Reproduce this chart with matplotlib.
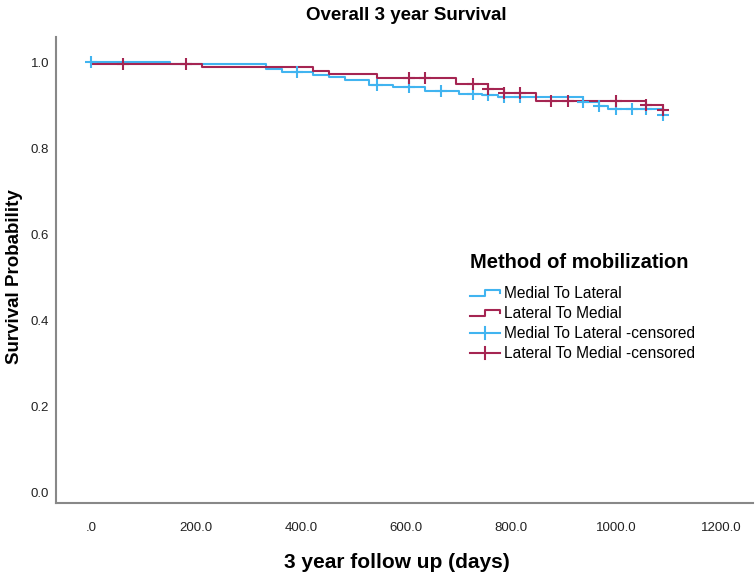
import numpy as np
import matplotlib
matplotlib.use('Agg')
import matplotlib.pyplot as plt
from matplotlib.lines import Line2D
from matplotlib.legend_handler import HandlerBase

# Medial To Lateral: event times (days) and survival after each step
ml_tempo = [0, 150, 333, 363, 423, 453, 484, 530, 575, 636, 700, 745, 775, 937, 968, 985, 1090]
ml_sobrev = [1.0, 0.996, 0.985, 0.977, 0.970, 0.965, 0.958, 0.947, 0.943, 0.933, 0.927, 0.923, 0.920,
             0.907, 0.899, 0.891, 0.878]
ml_censura = [0, 392, 544, 606, 666, 728, 756, 787, 817, 937, 968, 1000, 1030, 1058, 1090]

# Lateral To Medial
lm_tempo = [0, 2, 211, 423, 453, 544, 696, 756, 787, 848, 1058, 1090]
lm_sobrev = [1.0, 0.9965, 0.989, 0.980, 0.973, 0.963, 0.950, 0.937, 0.929, 0.911, 0.901, 0.889]
lm_censura = [60, 181, 606, 636, 728, 756, 787, 817, 877, 909, 1000, 1058, 1090]

x_ticks = [0, 200, 400, 600, 800, 1000, 1200]
x_rotulos = ['.0', '200.0', '400.0', '600.0', '800.0', '1000.0', '1200.0']
y_ticks = [0.0, 0.2, 0.4, 0.6, 0.8, 1.0]
y_rotulos = ['0.0', '0.2', '0.4', '0.6', '0.8', '1.0']

AZUL = '#41b4f0'
VINHO = '#a52552'
FONTE = ['Liberation Sans', 'DejaVu Sans']


def valor_em(tempos, sobrev, t):
    i = np.searchsorted(tempos, t, side='right') - 1
    return sobrev[i]


class DegrauHandler(HandlerBase):
    # icone de degrau da legenda (estilo SPSS)
    def create_artists(self, legend, orig, xd, yd, w, h, fontsize, trans):
        baixo = yd + h * 0.15
        alto = yd + h * 0.75
        xs = [xd, xd + w * 0.5, xd + w * 0.5, xd + w, xd + w]
        ys = [baixo, baixo, alto, alto, yd + h * 0.45]
        ln = Line2D(xs, ys, color=orig.get_color(), lw=1.5, transform=trans)
        return [ln]


class CensuraHandler(HandlerBase):
    def create_artists(self, legend, orig, xd, yd, w, h, fontsize, trans):
        meio = yd + h * 0.45
        l1 = Line2D([xd, xd + w], [meio, meio], color=orig.get_color(), lw=1.5, transform=trans)
        l2 = Line2D([xd + w / 2, xd + w / 2], [meio - h * 0.55, meio + h * 0.55],
                    color=orig.get_color(), lw=1.5, transform=trans)
        return [l1, l2]


def GerarGrafico():
    plt.rcParams['font.family'] = FONTE
    fig = plt.figure(figsize=(7.56, 5.73), dpi=100)
    ax = fig.add_axes([56 / 756, 1 - 503 / 573, 697 / 756, 466 / 573])

    linha_ml, = ax.step(ml_tempo, ml_sobrev, where='post', color=AZUL, lw=1.5)
    linha_lm, = ax.step(lm_tempo, lm_sobrev, where='post', color=VINHO, lw=1.5)

    y_ml = [valor_em(ml_tempo, ml_sobrev, t) for t in ml_censura]
    y_lm = [valor_em(lm_tempo, lm_sobrev, t) for t in lm_censura]
    ax.plot(ml_censura, y_ml, ls='none', marker='+', ms=8, mew=1.5, color=AZUL)
    ax.plot(lm_censura, y_lm, ls='none', marker='+', ms=8, mew=1.5, color=VINHO)

    ax.set_xlim(-67, 1261)
    ax.set_ylim(-0.0256, 1.059)
    ax.set_xticks(x_ticks)
    ax.set_xticklabels(x_rotulos)
    ax.set_yticks(y_ticks)
    ax.set_yticklabels(y_rotulos)
    ax.tick_params(length=0, labelsize=9.5, colors='#222222')
    ax.tick_params(axis='x', pad=14)
    ax.tick_params(axis='y', pad=5)
    for s in ['top', 'right']:
        ax.spines[s].set_visible(False)
    for s in ['left', 'bottom']:
        ax.spines[s].set_color('#888888')
        ax.spines[s].set_linewidth(1.5)

    fig.text(406 / 756, 1 - 16 / 573, 'Overall 3 year Survival', ha='center', va='center',
             fontsize=13.5, fontweight='bold')
    fig.text(397 / 756, 1 - 563 / 573, '3 year follow up (days)', ha='center', va='center',
             fontsize=15, fontweight='bold')
    fig.text(15 / 756, 1 - 277 / 573, 'Survival Probability', ha='center', va='center',
             rotation=90, fontsize=13.5, fontweight='bold')
    fig.text(470 / 756, 1 - 262 / 573, 'Method of mobilization', ha='left', va='center',
             fontsize=14.5, fontweight='bold')

    c1 = Line2D([], [], color=AZUL)
    c2 = Line2D([], [], color=VINHO)
    ax.legend([linha_ml, linha_lm, c1, c2],
              ['Medial To Lateral', 'Lateral To Medial',
               'Medial To Lateral -censored', 'Lateral To Medial -censored'],
              handler_map={linha_ml: DegrauHandler(), linha_lm: DegrauHandler(),
                           c1: CensuraHandler(), c2: CensuraHandler()},
              loc='upper left',
              bbox_to_anchor=((470 - 56) / 697, (503 - 286) / 466),
              frameon=False, fontsize=11.2, handlelength=1.9, handletextpad=0.3,
              labelspacing=0.32, borderaxespad=0, borderpad=0)

    fig.savefig('out.png', dpi=100)
    plt.close(fig)


GerarGrafico()
